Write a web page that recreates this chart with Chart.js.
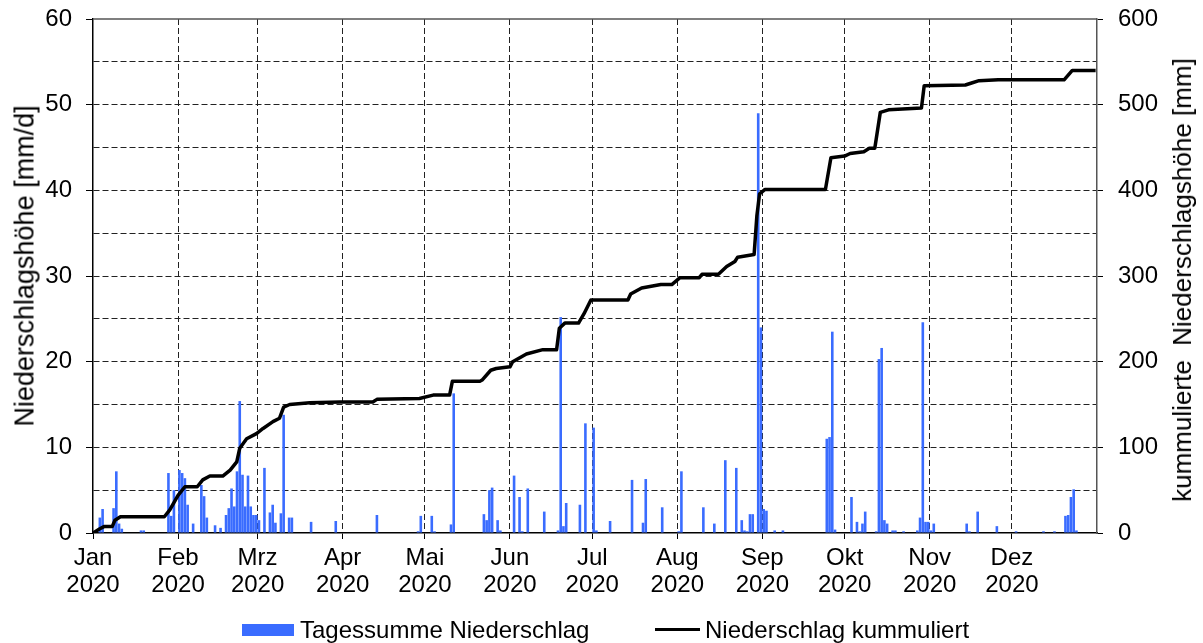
<!DOCTYPE html>
<html>
<head>
<meta charset="utf-8">
<script src="https://cdn.jsdelivr.net/npm/chart.js@4.4.1/dist/chart.umd.min.js"></script>
<style>
  html, body { margin: 0; padding: 0; background: #fff; }
  #wrap { position: relative; width: 1203px; height: 643px; font-family: "Liberation Sans", Arial, sans-serif; color: #000; }
  #legend { position: absolute; top: 616px; left: 0; width: 1203px; height: 27px; font-size: 24px; }
  .item { position: absolute; top: 0; height: 27px; display: flex; align-items: center; white-space: nowrap; }
  .box { width: 52px; height: 12px; background: #3a6cff; margin-right: 6px; }
  .line { width: 45px; height: 3px; background: #000; margin-right: 5px; }
  .ytitle { position: absolute; font-size: 27px; line-height: 1; white-space: pre; transform: translate(-50%, -50%) rotate(-90deg); }
</style>
</head>
<body>
<div id="wrap">
  <canvas id="myChart" width="1203" height="643"></canvas>
  <div class="ytitle" style="left:25px; top:266px">Niederschlagshöhe [mm/d]</div>
  <div class="ytitle" style="left:1182px; top:280px; font-size:26px">kummulierte  Niederschlagshöhe [mm]</div>
  <div id="legend">
    <div class="item" style="left:242px"><span class="box"></span>Tagessumme Niederschlag</div>
    <div class="item" style="left:655px"><span class="line"></span>Niederschlag kummuliert</div>
  </div>
</div>
<script>
// Monate 2020 (Tag-Index ab 1. Januar)
const monthStarts = [0, 31, 60, 91, 121, 152, 182, 213, 244, 274, 305, 335];
const monthNames = ['Jan', 'Feb', 'Mrz', 'Apr', 'Mai', 'Jun', 'Jul', 'Aug', 'Sep', 'Okt', 'Nov', 'Dez'];
const yearLabel = '2020';

// Tagessumme Niederschlag [mm/d], nur Tage mit Niederschlag
const rainDays = [2, 3, 7, 8, 9, 10, 17, 18, 27, 28,
    29, 31, 32, 33, 34, 36, 39, 40, 41, 44,
    46, 48, 49, 50, 51, 52, 53, 54, 55, 56,
    57, 58, 59, 60, 62, 64, 65, 66, 68, 69,
    71, 72, 79, 88, 103, 118, 119, 123, 124, 130,
    131, 142, 143, 144, 145, 147, 148, 153, 155, 156,
    158, 164, 169, 170, 171, 172, 177, 179, 182, 183,
    188, 196, 200, 201, 207, 213, 214, 222, 226, 230,
    234, 236, 237, 238, 239, 240, 242, 243, 244, 245,
    248, 251, 267, 268, 269, 270, 276, 278, 279, 280,
    281, 285, 286, 287, 288, 289, 291, 292, 295, 300,
    301, 302, 303, 304, 305, 306, 318, 319, 322, 329,
    336, 346, 350, 354, 355, 356, 357, 358];
const rainMm = [1.8, 2.8, 2.9, 7.2, 1.1, 0.5, 0.3, 0.3, 7.0, 2.0,
    5.0, 7.35, 7.0, 6.4, 3.3, 1.1, 5.6, 4.3, 1.8, 0.9,
    0.6, 2.1, 2.9, 5.2, 3.1, 7.2, 15.4, 6.8, 3.1, 6.7,
    3.1, 2.1, 2.1, 1.5, 7.6, 2.4, 3.3, 1.2, 2.3, 13.8,
    1.8, 1.8, 1.3, 1.4, 2.1, 0.2, 2.0, 2.0, 0.2, 1.0,
    16.3, 2.2, 1.5, 5.0, 5.3, 1.5, 0.3, 6.7, 4.2, 0.2,
    5.2, 2.5, 0.3, 25.2, 0.8, 3.5, 3.3, 12.8, 12.3, 0.3,
    1.4, 6.2, 1.2, 6.3, 3.0, 0.2, 7.2, 3.0, 1.1, 8.5,
    7.6, 1.5, 0.3, 0.2, 2.2, 2.2, 49.0, 24.0, 2.8, 2.6,
    0.3, 0.3, 11.0, 11.2, 23.5, 0.4, 4.2, 1.3, 0.2, 1.1,
    2.5, 0.2, 20.3, 21.6, 1.5, 1.1, 0.3, 0.3, 0.2, 0.3,
    1.8, 24.6, 1.3, 1.3, 0.3, 1.1, 1.1, 0.2, 2.5, 0.8,
    0.2, 0.2, 0.2, 2.0, 2.1, 4.2, 5.1, 0.3];

const cumDays = [0, 2.5, 4, 7, 8, 10, 26, 28, 31, 33.5, 38, 40, 42.6, 47.3, 50, 52.4,
    53.5, 56, 59.6, 62, 65.6, 68, 69.5, 71.7, 79, 90, 102, 103.5, 119, 124, 130,
    131, 141, 142, 145, 147, 152, 153, 158, 164, 169, 170, 172, 177, 179, 181.5,
    195, 196, 200, 207, 211, 214, 221, 222, 228, 231, 234, 235, 241, 242, 243,
    245, 267, 269, 274, 276, 281, 283, 285, 287, 290, 302, 303, 318, 320, 323,
    330, 354, 357, 365.5];
const cumMm = [0, 5, 7.5, 7.5, 15, 19, 19, 27, 44, 54, 54, 62, 66.5, 66.5, 73.5, 83,
    99, 110, 116, 122, 130, 134, 147, 150, 152, 153, 153, 156, 157, 161, 161,
    177, 177, 179, 190, 192, 194, 200, 209, 214, 214, 239, 245, 245, 256, 272,
    272, 279, 286, 290, 290, 298, 298, 302, 302, 311, 317, 322, 325, 370, 396,
    401, 401, 438, 440, 443, 445, 449, 449, 491, 494, 496, 522, 523, 525, 528,
    529, 529, 540, 540];

Chart.defaults.font.family = '"Liberation Sans", Arial, sans-serif';
Chart.defaults.font.size = 24;
Chart.defaults.color = '#000';

// obere Rahmenlinie
const framePlugin = {
    id: 'frame',
    afterDraw(chart) {
        const a = chart.chartArea;
        const c = chart.ctx;
        c.save();
        c.strokeStyle = '#555';
        c.lineWidth = 1.5;
        c.beginPath();
        c.moveTo(a.left, a.top);
        c.lineTo(a.right, a.top);
        c.stroke();
        c.restore();
    }
};

const transparent = 'rgba(0,0,0,0)';

// feste Breite der Y-Achsen, Label-Ueberstand nicht einrechnen
const fixWidth = w => s => {
    s.width = w;
    s.paddingTop = 0;
    s.paddingBottom = 0;
};

const ctx = document.getElementById('myChart').getContext('2d');
const myChart = new Chart(ctx, {
    type: 'bar',
    data: {
        datasets: [{
            type: 'line',
            label: 'Niederschlag kummuliert',
            data: cumDays.map((d, i) => ({ x: d, y: cumMm[i] })),
            borderColor: '#000',
            borderWidth: 3.5,
            pointRadius: 0,
            tension: 0,
            fill: false,
            borderJoinStyle: 'round',
            yAxisID: 'y1',
            order: 1
        }, {
            type: 'bar',
            label: 'Tagessumme Niederschlag',
            data: rainDays.map((d, i) => ({ x: d + 0.5, y: rainMm[i] })),
            backgroundColor: '#3a6cff',
            barPercentage: 0.95,
            categoryPercentage: 1,
            yAxisID: 'y',
            order: 2
        }]
    },
    options: {
        responsive: false,
        animation: false,
        devicePixelRatio: 1,
        layout: { padding: { top: 19, bottom: 38, left: 0, right: 0 } },
        plugins: { legend: { display: false }, tooltip: { enabled: false } },
        scales: {
            x: {
                type: 'linear',
                min: 0,
                max: 366,
                offset: false,
                afterBuildTicks: s => { s.ticks = monthStarts.map(v => ({ value: v })); },
                afterFit: s => { s.height = 72; },
                ticks: {
                    autoSkip: false,
                    maxRotation: 0,
                    padding: 6,
                    font: { size: 24, lineHeight: 1.13 },
                    callback: v => {
                        const i = monthStarts.indexOf(v);
                        return i < 0 ? '' : [monthNames[i], yearLabel];
                    }
                },
                grid: {
                    offset: false,
                    color: c => (c.tick && c.tick.value === 0) ? transparent : '#222',
                    lineWidth: 1,
                    tickColor: '#000',
                    tickLength: 6
                },
                border: { color: '#000', width: 1.5, dash: [6, 3] }
            },
            y: {
                position: 'left',
                min: 0,
                max: 60,
                afterFit: fixWidth(93),
                ticks: { stepSize: 5, padding: 14, callback: v => v % 10 === 0 ? v : '' },
                grid: {
                    color: c => (c.tick && (c.tick.value === 0 || c.tick.value === 60)) ? transparent : '#222',
                    lineWidth: 1,
                    tickColor: c => (c.tick && c.tick.value % 10 === 0) ? '#000' : transparent,
                    tickLength: 7
                },
                border: { color: '#000', width: 1.5, dash: [6, 3] }
            },
            y1: {
                position: 'right',
                min: 0,
                max: 600,
                afterFit: fixWidth(106),
                ticks: { stepSize: 100, padding: 15 },
                grid: { drawOnChartArea: false, tickColor: '#000', tickLength: 6 },
                border: { color: '#555', width: 1.5 }
            }
        }
    },
    plugins: [framePlugin]
});
</script>
</body>
</html>
